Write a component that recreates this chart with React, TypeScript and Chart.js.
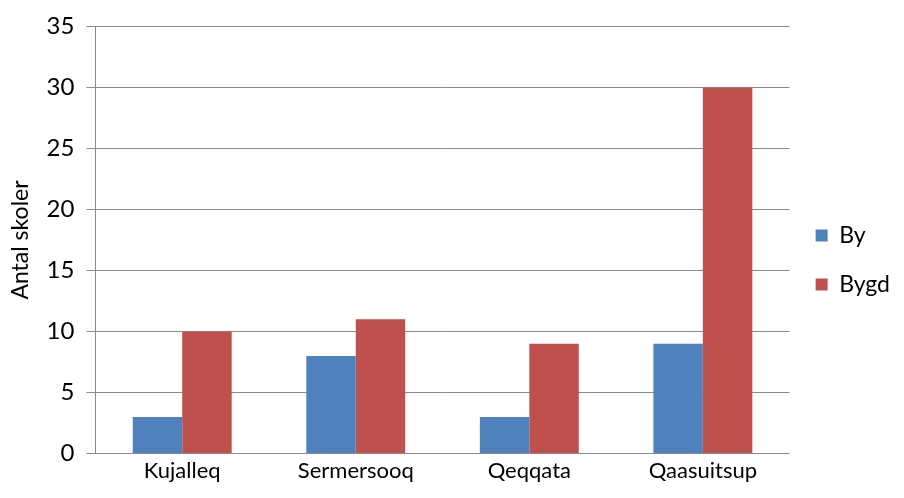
import React, { useEffect, useRef } from "react";
import { Chart, registerables } from "chart.js";

Chart.register(...registerables);

const categories = ["Kujalleq", "Sermersooq", "Qeqqata", "Qaasuitsup"];
const byValues = [3, 8, 3, 9];
const bygdValues = [10, 11, 9, 30];
const seriesNames = ["By", "Bygd"];
const yTitle = "Antal skoler";

const FONT = "Lato, 'Open Sans', sans-serif";

export default function App() {
  const ref = useRef<HTMLCanvasElement | null>(null);
  useEffect(() => {
    if (!ref.current) return;
    const chart = new Chart(ref.current, {
      type: "bar",
      data: {
        labels: categories,
        datasets: [
          {
            label: seriesNames[0],
            data: byValues,
            backgroundColor: "#4F81BD",
            categoryPercentage: 0.57,
            barPercentage: 1.0,
          },
          {
            label: seriesNames[1],
            data: bygdValues,
            backgroundColor: "#C0504D",
            categoryPercentage: 0.57,
            barPercentage: 1.0,
          },
        ],
      },
      options: {
        animation: false,
        responsive: false,
        maintainAspectRatio: false,
        layout: { padding: { top: 14, left: 7, right: 4, bottom: 10 } },
        plugins: {
          tooltip: { enabled: false },
          legend: {
            position: "right",
            title: { display: true, text: " ", font: { size: 10 }, padding: 3 },
            labels: {
              color: "#000",
              font: { family: FONT, size: 23 },
              boxWidth: 12,
              boxHeight: 12,
              padding: 26,
            },
          },
        },
        scales: {
          x: {
            grid: { display: false, drawTicks: false },
            border: { display: false },
            ticks: { color: "#000", font: { family: FONT, size: 22 }, padding: 4 },
          },
          y: {
            min: 0,
            max: 35,
            ticks: {
              stepSize: 5,
              color: "#000",
              font: { family: FONT, size: 24 },
              padding: 12,
            },
            grid: {
              color: "#8a8a8a",
              lineWidth: 1,
              drawTicks: true,
              tickLength: 9,
            },
            border: { display: true, color: "#8a8a8a", width: 1 },
            title: {
              display: true,
              text: yTitle,
              color: "#000",
              font: { family: FONT, size: 23 },
              padding: { top: 0, bottom: 0 },
            },
          },
        },
      },
    });
    return () => chart.destroy();
  }, []);
  return (
    <div style={{ position: "absolute", left: 0, top: 0, width: 904, height: 498, background: "#fff" }}>
      <canvas ref={ref} width={904} height={498} />
    </div>
  );
}
